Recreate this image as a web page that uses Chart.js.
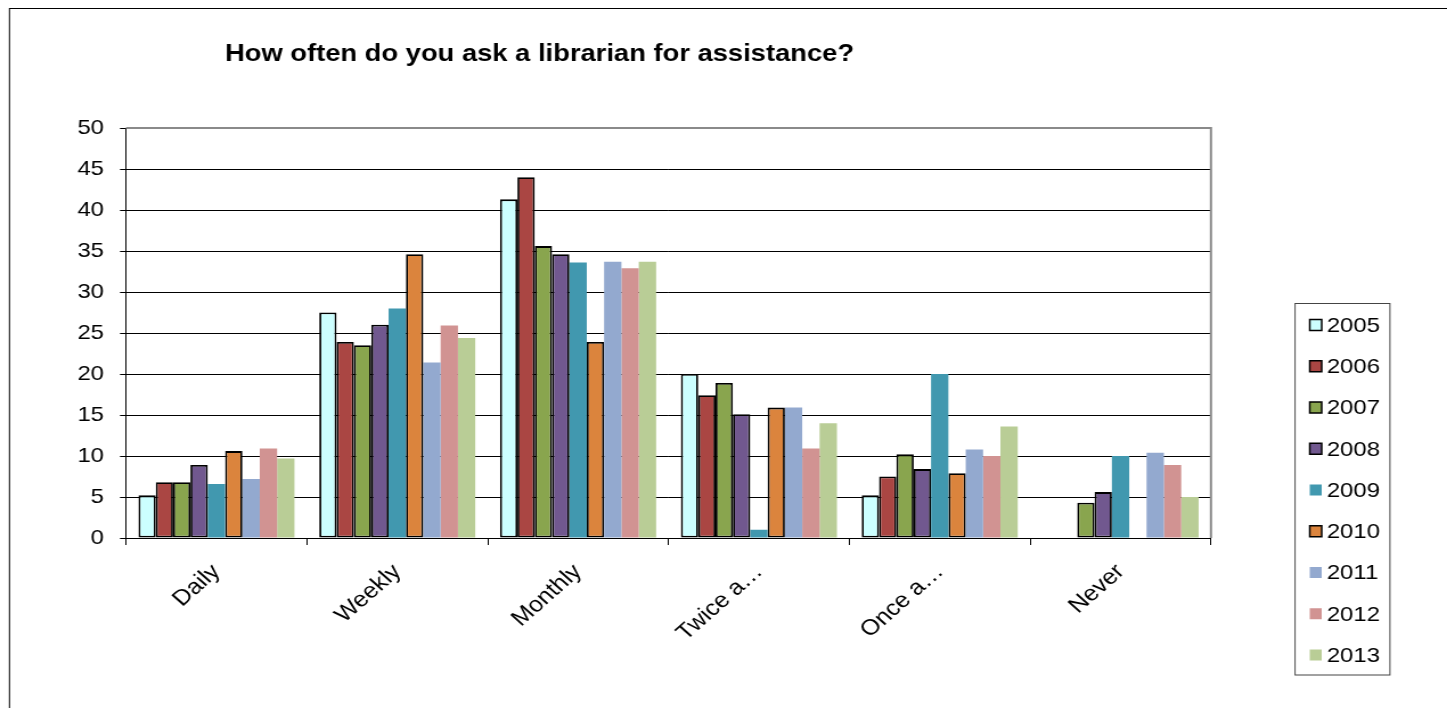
<!DOCTYPE html>
<html>
<head>
<meta charset="utf-8">
<title>How often do you ask a librarian for assistance?</title>
<script src="https://cdn.jsdelivr.net/npm/chart.js@4"></script>
<style>
  html, body { margin: 0; padding: 0; background: #fff; overflow: hidden; }
  /* the chart is laid out on a narrower canvas and widened horizontally */
  #wrap { width: 1270px; height: 708px; transform: scaleX(1.1394); transform-origin: 0 0; }
  canvas { display: block; }
</style>
</head>
<body>
<div id="wrap"><canvas id="chart" width="1270" height="708"></canvas></div>
<script>
// Survey answers, percent of respondents per year
const categories = ['Daily', 'Weekly', 'Monthly', 'Twice a\u2026', 'Once a\u2026', 'Never'];
const years = ['2005', '2006', '2007', '2008', '2009', '2010', '2011', '2012', '2013'];

const v2005 = [5.2, 27.5, 41.3, 20.0, 5.2, 0];
const v2006 = [6.8, 23.9, 44.0, 17.4, 7.5, 0];
const v2007 = [6.8, 23.5, 35.6, 18.9, 10.2, 4.3];
const v2008 = [8.9, 26.0, 34.6, 15.1, 8.4, 5.6];
const v2009 = [6.6, 28.0, 33.6, 1.0, 20.0, 10.0];
const v2010 = [10.6, 34.6, 23.9, 15.9, 7.9, 0];
const v2011 = [7.2, 21.4, 33.7, 15.9, 10.8, 10.4];
const v2012 = [10.9, 25.9, 32.9, 10.9, 10.0, 8.9];
const v2013 = [9.7, 24.4, 33.7, 14.0, 13.6, 5.0];

const yTicks = [0, 5, 10, 15, 20, 25, 30, 35, 40, 45, 50];

const seriesValues = [v2005, v2006, v2007, v2008, v2009, v2010, v2011, v2012, v2013];
const fills = ['#CCFFFF', '#AA4643', '#89A54E', '#71588F', '#4198AF', '#DB843D', '#93A9CF', '#D19392', '#B9CD96'];
const outlined = [true, true, true, true, false, true, false, false, false];

const FONT = "'Liberation Sans', Arial, sans-serif";

const datasets = years.map((y, i) => ({
  label: y,
  data: seriesValues[i],
  backgroundColor: fills[i],
  borderColor: outlined[i] ? '#000' : fills[i],
  borderWidth: outlined[i] ? 1.8 : 0,
  borderSkipped: false,
  categoryPercentage: 0.863,
  barPercentage: 1.0
}));

const PLOT = { left: 110.6, right: 1062.8, top: 128, bottom: 538 };

const decorations = {
  id: 'decorations',
  beforeDatasetsDraw(chart) {
    const ctx = chart.ctx;
    const a = chart.chartArea;
    ctx.save();
    ctx.strokeStyle = '#8a8a8a';
    ctx.lineWidth = 2;
    ctx.beginPath();
    ctx.moveTo(a.left, a.top);
    ctx.lineTo(a.right, a.top);
    ctx.lineTo(a.right, a.bottom);
    ctx.stroke();
    ctx.restore();
  },
  afterDraw(chart) {
    const ctx = chart.ctx;
    ctx.save();
    // outer frame
    ctx.strokeStyle = '#000';
    ctx.lineWidth = 1;
    ctx.strokeRect(8.3, 8.5, 1400, 800);

    // title
    ctx.fillStyle = '#000';
    ctx.font = 'bold 24px ' + FONT;
    ctx.textAlign = 'center';
    ctx.textBaseline = 'alphabetic';
    ctx.fillText('How often do you ask a librarian for assistance?', 473.5, 60.5);

    // legend
    ctx.strokeStyle = '#444';
    ctx.lineWidth = 1;
    ctx.strokeRect(1136.6, 303.5, 83.3, 371.5);
    ctx.font = '21px ' + FONT;
    ctx.textAlign = 'left';
    ctx.textBaseline = 'middle';
    chart.data.datasets.forEach((ds, i) => {
      const cy = 325 + i * 41.25;
      ctx.fillStyle = ds.backgroundColor;
      ctx.fillRect(1149.5, cy - 5.5, 10.5, 11);
      if (outlined[i]) {
        ctx.strokeStyle = '#000';
        ctx.lineWidth = 1.5;
        ctx.strokeRect(1149.5, cy - 5.5, 10.5, 11);
      }
      ctx.fillStyle = '#000';
      ctx.fillText(ds.label, 1164.4, cy + 1);
    });
    ctx.restore();
  }
};

new Chart(document.getElementById('chart'), {
  type: 'bar',
  data: { labels: categories, datasets },
  options: {
    responsive: false,
    animation: false,
    devicePixelRatio: 1,
    layout: { padding: { left: 0, top: PLOT.top, right: 1270 - PLOT.right, bottom: 0 } },
    plugins: {
      legend: { display: false },
      title: { display: false },
      tooltip: { enabled: false }
    },
    scales: {
      x: {
        offset: true,
        grid: { display: true, offset: true, drawOnChartArea: false, color: '#000', tickLength: 7, lineWidth: 1 },
        border: { display: true, color: '#000', width: 1 },
        ticks: {
          color: '#000',
          font: { family: FONT, size: 22 },
          minRotation: 45,
          maxRotation: 45,
          padding: 14,
          autoSkip: false
        },
        afterFit(scale) { scale.height = 708 - PLOT.bottom; }
      },
      y: {
        min: 0,
        max: 50,
        afterBuildTicks(scale) { scale.ticks = yTicks.map(v => ({ value: v })); },
        grid: {
          color: (c) => (c.tick && c.tick.value === 50 ? 'rgba(0,0,0,0)' : '#000'),
          tickColor: '#000',
          tickLength: 5.3,
          lineWidth: 1
        },
        border: { display: true, color: '#000', width: 1 },
        ticks: {
          color: '#000',
          font: { family: FONT, size: 21 },
          padding: 14
        },
        afterFit(scale) { scale.width = PLOT.left; }
      }
    }
  },
  plugins: [decorations]
});
</script>
</body>
</html>
